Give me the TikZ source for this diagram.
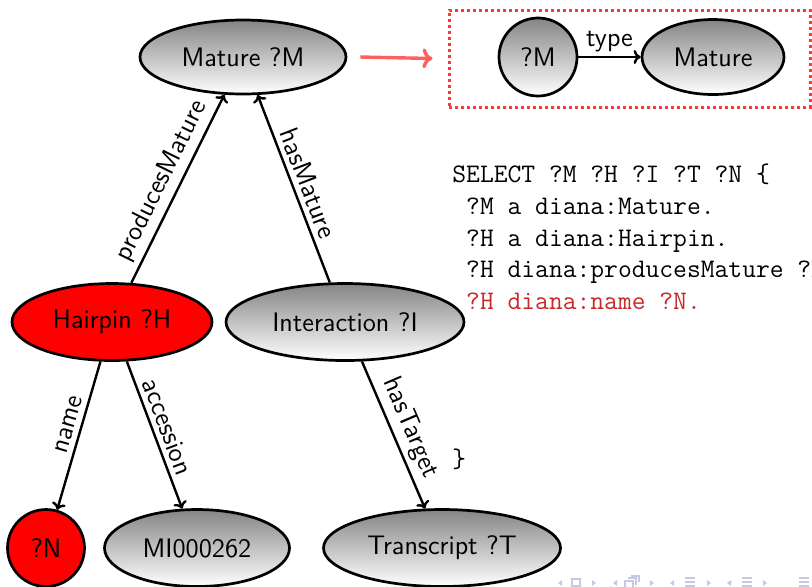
\documentclass[tikz,border=0pt]{standalone}
\usetikzlibrary{shapes.geometric,arrows.meta}
\definecolor{alertred}{RGB}{200,40,40}
\definecolor{arrowred}{RGB}{255,95,95}
\definecolor{boxred}{RGB}{255,55,55}
\definecolor{navgray}{RGB}{200,200,226}
\begin{document}
\begin{tikzpicture}[x=0.5pt,y=-0.5pt,
  every node/.style={font=\sffamily\fontsize{13.4}{16}\selectfont},
  ent/.style={ellipse, draw, line width=1.35pt, top color=black!48, bottom color=white, inner sep=0pt},
  hot/.style={ellipse, draw, line width=1.35pt, fill=red, inner sep=0pt},
  rel/.style={-{To[length=3.5pt,width=7pt]}, line width=1.2pt},
  lab/.style={sloped, above, inner sep=2.5pt},
  code/.style={anchor=base west, font=\ttfamily\fontsize{13.4}{15.75}\selectfont, inner sep=0pt},
  navtri/.style={fill=navgray, draw=none}]
\path[use as bounding box] (0,0) rectangle (812,586);
\clip (0,0) rectangle (812,586);

% query text
\node[code] (q1) at (452,182) {SELECT ?M ?H ?I ?T ?N \{};
\node[code] (q2) at (452,214.5) {\ ?M a diana:Mature.};
\node[code] (q3) at (452,246) {\ ?H a diana:Hairpin.};
\node[code] (q4) at (452,277.5) {\ ?H diana:producesMature ?M.};
\node[code, text=alertred] (q5) at (452,309) {\ ?H diana:name ?N.};
\node[code] (close) at (452,467) {\}};

% graph nodes
\node[ent, minimum width=103pt, minimum height=37pt] (mat) at (243,57) {Mature ?M};
\node[hot, minimum width=100pt, minimum height=38.5pt] (hair) at (112,322) {Hairpin ?H};
\node[ent, minimum width=119pt, minimum height=38.5pt] (inter) at (345,322) {Interaction ?I};
\node[hot, circle, minimum size=38.5pt] (n) at (46,548) {?N};
\node[ent, minimum width=92.5pt, minimum height=38.5pt] (mi) at (197,548) {MI000262};
\node[ent, minimum width=118.5pt, minimum height=38.5pt] (tr) at (442,548) {Transcript ?T};

% triple pattern box
\node[draw=boxred, line width=1.5pt, dash pattern=on 1.5pt off 1.5pt, minimum width=180.5pt, minimum height=48.5pt] (qbox) at (629.5,58.5) {};
\node[ent, circle, minimum size=39pt] (qm) at (538,57) {?M};
\node[ent, minimum width=71pt, minimum height=37.5pt] (matc) at (713,57) {Mature};
\draw[rel] (qm) -- node[above, inner sep=2pt] {type} (matc);

\draw[-{To[length=5pt,width=10pt]}, arrowred, line width=1.7pt] ([xshift=6.5pt]mat.east) -- ([xshift=-7.5pt]qbox.west);

% edges
\draw[rel] (hair) -- node[lab, pos=0.5] {producesMature} (mat);
\draw[rel] (inter) -- node[lab, pos=0.5] {hasMature} (mat);
\draw[rel] (hair) -- node[lab, pos=0.45] {name} (n);
\draw[rel] (hair) -- node[lab, pos=0.48] {accession} (mi);
\draw[rel] (inter) -- node[lab, pos=0.5] {hasTarget} (tr);

% navigation symbols
\fill[navtri] (562,580) -- (558,583) -- (562,586) -- cycle;
\draw[navgray, line width=0.6pt] (572,579) rectangle (580,586);
\fill[navtri] (592,580) -- (596,583) -- (592,586) -- cycle;
\fill[navtri] (617,580) -- (613,583) -- (617,586) -- cycle;
\draw[navgray, line width=0.6pt] (625,581) rectangle (633,588) (628,578) -- (636,578) -- (636,585) (631,576) -- (639,576) -- (639,582);
\fill[navtri] (650,580) -- (654,583) -- (650,586) -- cycle;
\fill[navtri] (674,580) -- (670,583) -- (674,586) -- cycle;
\draw[navgray, line width=0.8pt] (685,578) -- (695,578) (685,582) -- (695,582) (685,586) -- (695,586);
\fill[navtri] (707,580) -- (711,583) -- (707,586) -- cycle;
\fill[navtri] (731,580) -- (727,583) -- (731,586) -- cycle;
\draw[navgray, line width=0.8pt] (742,578) -- (752,578) (742,582) -- (752,582) (742,586) -- (752,586);
\fill[navtri] (763,580) -- (767,583) -- (763,586) -- cycle;
\draw[navgray, line width=0.8pt] (799,578) -- (809,578) (799,582) -- (809,582) (799,586) -- (809,586);
\end{tikzpicture}
\end{document}
